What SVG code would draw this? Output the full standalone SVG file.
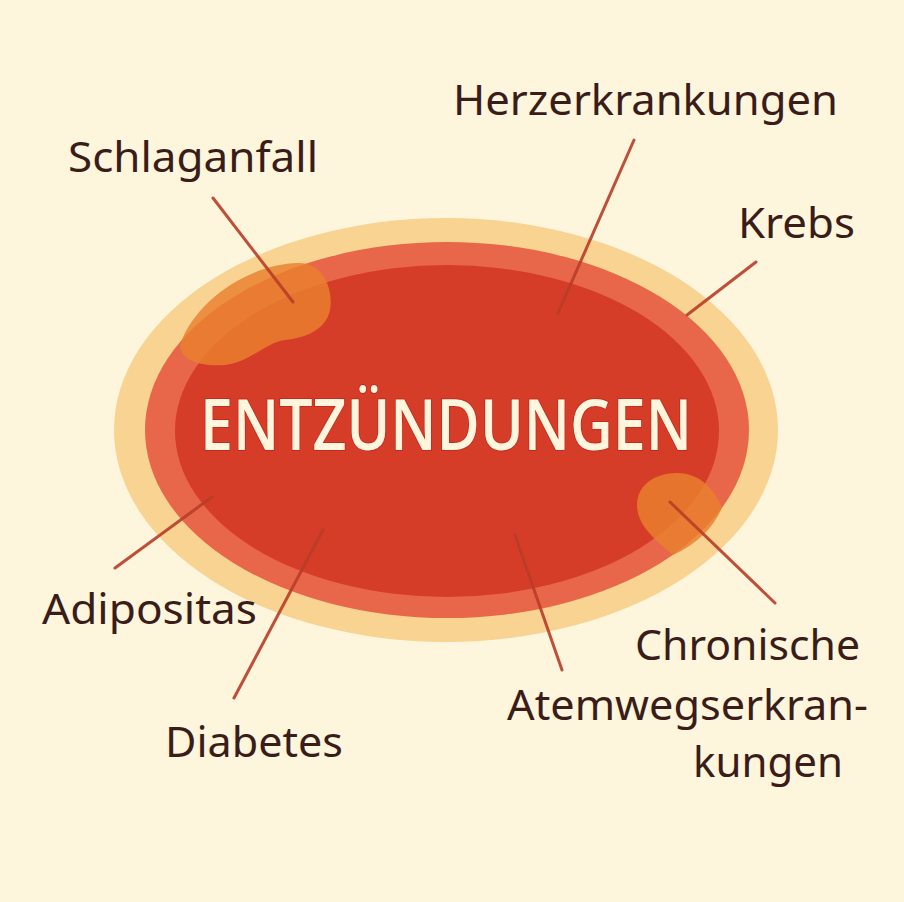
<svg xmlns="http://www.w3.org/2000/svg" width="904" height="902" viewBox="0 0 904 902">
<style>
.lbl{font-family:"Noto Sans","Open Sans","DejaVu Sans",sans-serif;font-size:42px;fill:#3a1d19}
.ln{stroke:#b93e28;stroke-width:3;stroke-linecap:round;opacity:0.9}
.blob{fill:#e9802e;opacity:0.82}
</style>
<rect width="904" height="902" fill="#fdf5dc"/>
<g id="center">
<ellipse cx="446" cy="430" rx="332" ry="212" fill="#f8d392"/>
<ellipse cx="447" cy="430" rx="302" ry="188" fill="#e8664a"/>
<ellipse cx="447" cy="431" rx="272" ry="166" fill="#d53d29"/>
<path class="blob" d="M180,345 C195,300 250,264 298,263 C322,262 334,288 330,310 C326,330 305,338 285,340 C265,343 250,362 225,365 C200,367 180,360 180,345 Z"/>
<path class="blob" d="M637,505 C637,485 655,473 677,473 C700,473 715,490 722,508 C712,530 695,545 673,555 C655,540 637,525 637,505 Z"/>
<text x="446" y="450" text-anchor="middle" textLength="492" lengthAdjust="spacingAndGlyphs" style="font-family:'Open Sans','Noto Sans',sans-serif;font-size:70px;font-weight:600;fill:#fff6dd;stroke:#c92a1c;stroke-width:2;paint-order:stroke">ENTZÜNDUNGEN</text>
</g>
<g id="connectors">
<line class="ln" x1="213" y1="198" x2="293" y2="302"/>
<line class="ln" x1="634" y1="140" x2="558" y2="313"/>
<line class="ln" x1="756" y1="262" x2="687" y2="315"/>
<line class="ln" x1="775" y1="603" x2="670" y2="502"/>
<line class="ln" x1="515" y1="535" x2="562" y2="670"/>
<line class="ln" x1="323" y1="530" x2="234" y2="698"/>
<line class="ln" x1="212" y1="497" x2="115" y2="568"/>
</g>
<g id="herz"><text class="lbl" x="453" y="115" textLength="385" lengthAdjust="spacingAndGlyphs">Herzerkrankungen</text></g>
<g id="schlag"><text class="lbl" x="68" y="172" textLength="250" lengthAdjust="spacingAndGlyphs">Schlaganfall</text></g>
<g id="krebs"><text class="lbl" x="738" y="238" textLength="117" lengthAdjust="spacingAndGlyphs">Krebs</text></g>
<g id="adipositas"><text class="lbl" x="42" y="624" textLength="215" lengthAdjust="spacingAndGlyphs">Adipositas</text></g>
<g id="diabetes"><text class="lbl" x="165" y="757" textLength="178" lengthAdjust="spacingAndGlyphs">Diabetes</text></g>
<g id="atemweg">
<text class="lbl" x="635" y="660" textLength="225" lengthAdjust="spacingAndGlyphs">Chronische</text>
<text class="lbl" x="507" y="720" textLength="361" lengthAdjust="spacingAndGlyphs">Atemwegserkran-</text>
<text class="lbl" x="693" y="777" textLength="150" lengthAdjust="spacingAndGlyphs">kungen</text>
</g>
</svg>
